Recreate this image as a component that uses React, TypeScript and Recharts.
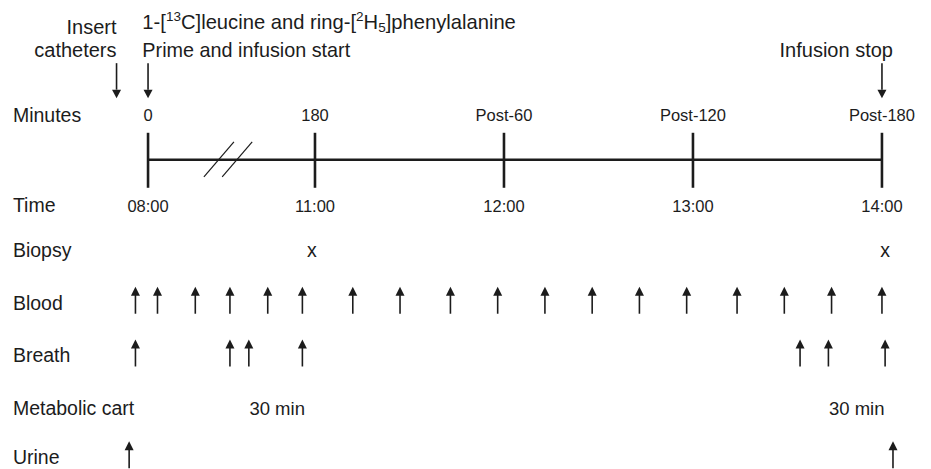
import React from 'react';
import { ScatterChart, Scatter, XAxis, YAxis, ReferenceLine } from 'recharts';

// x is "display minutes": the 08:00-11:00 stretch is drawn compressed (broken axis)
const tickPos = [0, 53, 113, 173, 233];
const minuteLabels = ['0', '180', 'Post-60', 'Post-120', 'Post-180'];
const clockLabels = ['08:00', '11:00', '12:00', '13:00', '14:00'];

const biopsyTimes = [52, 234];
const bloodTimes = [-4, 3, 15, 26, 38, 49, 65, 80, 96, 111, 126, 141, 156, 171, 187, 202, 217, 233];
const breathTimes = [-4, 26, 32, 49, 207, 216, 234];
const cartTimes = [41, 225];
const cartLabel = '30 min';
const urineTimes = [-6, 236.5];
const breakMarks = [22.5, 28.3];
const eventArrows = [-10, 0, 233]; // catheters, infusion start, infusion stop

const rowNames = ['Minutes', 'Time', 'Biopsy', 'Blood', 'Breath', 'Metabolic cart', 'Urine'];

// vertical layout (row units, Urine = 0)
const ROW_Y: Record<string, number> = {
  Minutes: 6.55,
  Time: 4.86,
  Biopsy: 4,
  Blood: 3,
  Breath: 2,
  'Metabolic cart': 1,
  Urine: 0.07,
};
const TICK_LABEL_Y = 4.83;
const LINE_Y = 5.71;
const ARROW_Y = 7.21;
const NOTE1_Y = 8.32;
const NOTE2_Y = 7.79;
const INSERT1_Y = 8.23;
const LABEL_X = -42.9;

const FONT = '"Liberation Sans", Arial, Helvetica, sans-serif';
const INK = '#1c1c1c';

const pts = (xs: number[], y: number, labels?: string[]) =>
  xs.map((x, i) => ({ x, y, label: labels ? labels[i] : undefined }));

const UpArrow = ({ cx, cy }: any) => (
  <g>
    <line x1={cx} y1={cy + 11} x2={cx} y2={cy - 8} stroke={INK} strokeWidth={1.6} />
    <polygon points={`${cx - 4.5},${cy - 7} ${cx + 4.5},${cy - 7} ${cx},${cy - 16}`} fill={INK} />
  </g>
);

const DownArrow = ({ cx, cy }: any) => (
  <g>
    <line x1={cx} y1={cy - 17.5} x2={cx} y2={cy + 9} stroke={INK} strokeWidth={1.6} />
    <polygon points={`${cx - 4.5},${cy + 9} ${cx + 4.5},${cy + 9} ${cx},${cy + 17.5}`} fill={INK} />
  </g>
);

const TickMark = ({ cx, cy }: any) => (
  <line x1={cx} y1={cy - 27} x2={cx} y2={cy + 28} stroke={INK} strokeWidth={2.6} />
);

const BreakMark = ({ cx, cy }: any) => (
  <line x1={cx - 15} y1={cy + 17} x2={cx + 15} y2={cy - 18} stroke={INK} strokeWidth={1.2} />
);

const textShape = (size: number, anchor: string = 'middle') => ({ cx, cy, payload }: any) => (
  <text
    x={cx}
    y={cy}
    textAnchor={anchor}
    dominantBaseline="central"
    fontSize={size}
    fontFamily={FONT}
    fill={INK}
  >
    {payload.label}
  </text>
);

const TitleShape = ({ cx, cy }: any) => (
  <text x={cx} y={cy} dominantBaseline="central" fontSize={20.2} fontFamily={FONT} fill={INK}>
    1-[
    <tspan dy={-6} fontSize={13.5}>13</tspan>
    <tspan dy={6}>C]leucine and ring-[</tspan>
    <tspan dy={-6} fontSize={13.5}>2</tspan>
    <tspan dy={6}>H</tspan>
    <tspan dy={5} fontSize={13.5}>5</tspan>
    <tspan dy={-5}>]phenylalanine</tspan>
  </text>
);

export default function App() {
  return (
    <div style={{ position: 'absolute', left: 0, top: 0, background: '#fff' }}>
      <ScatterChart width={931} height={469} margin={{ top: 0, right: 0, bottom: 0, left: 0 }}>
        <XAxis type="number" dataKey="x" domain={[-47, 248.57]} allowDataOverflow hide />
        <YAxis type="number" dataKey="y" domain={[-0.152, 8.739]} allowDataOverflow hide />
        <ReferenceLine
          segment={[
            { x: tickPos[0], y: LINE_Y },
            { x: tickPos[tickPos.length - 1], y: LINE_Y },
          ]}
          stroke={INK}
          strokeWidth={2.6}
          ifOverflow="visible"
        />
        <Scatter
          data={rowNames.map((n) => ({ x: LABEL_X, y: ROW_Y[n], label: n }))}
          shape={textShape(19.5, 'start')}
          isAnimationActive={false}
        />
        <Scatter data={pts(tickPos, LINE_Y)} shape={TickMark} isAnimationActive={false} />
        <Scatter data={pts(breakMarks, LINE_Y)} shape={BreakMark} isAnimationActive={false} />
        <Scatter data={pts(tickPos, ROW_Y.Minutes, minuteLabels)} shape={textShape(16.5)} isAnimationActive={false} />
        <Scatter data={pts(tickPos, TICK_LABEL_Y, clockLabels)} shape={textShape(16.5)} isAnimationActive={false} />
        <Scatter data={pts(biopsyTimes, ROW_Y.Biopsy, biopsyTimes.map(() => 'x'))} shape={textShape(19.5)} isAnimationActive={false} />
        <Scatter data={pts(bloodTimes, ROW_Y.Blood)} shape={UpArrow} isAnimationActive={false} />
        <Scatter data={pts(breathTimes, ROW_Y.Breath)} shape={UpArrow} isAnimationActive={false} />
        <Scatter
          data={pts(cartTimes, ROW_Y['Metabolic cart'], cartTimes.map(() => cartLabel))}
          shape={textShape(18.5)}
          isAnimationActive={false}
        />
        <Scatter data={pts(urineTimes, ROW_Y.Urine)} shape={UpArrow} isAnimationActive={false} />
        <Scatter data={pts(eventArrows, ARROW_Y)} shape={DownArrow} isAnimationActive={false} />
        <Scatter data={pts([-10], INSERT1_Y, ['Insert'])} shape={textShape(20, 'end')} isAnimationActive={false} />
        <Scatter data={pts([-10], NOTE2_Y, ['catheters'])} shape={textShape(20, 'end')} isAnimationActive={false} />
        <Scatter data={pts([-1.8], NOTE1_Y)} shape={TitleShape} isAnimationActive={false} />
        <Scatter
          data={pts([-1.8], NOTE2_Y, ['Prime and infusion start'])}
          shape={textShape(19.8, 'start')}
          isAnimationActive={false}
        />
        <Scatter
          data={pts([236.5], NOTE2_Y, ['Infusion stop'])}
          shape={textShape(20, 'end')}
          isAnimationActive={false}
        />
      </ScatterChart>
    </div>
  );
}
